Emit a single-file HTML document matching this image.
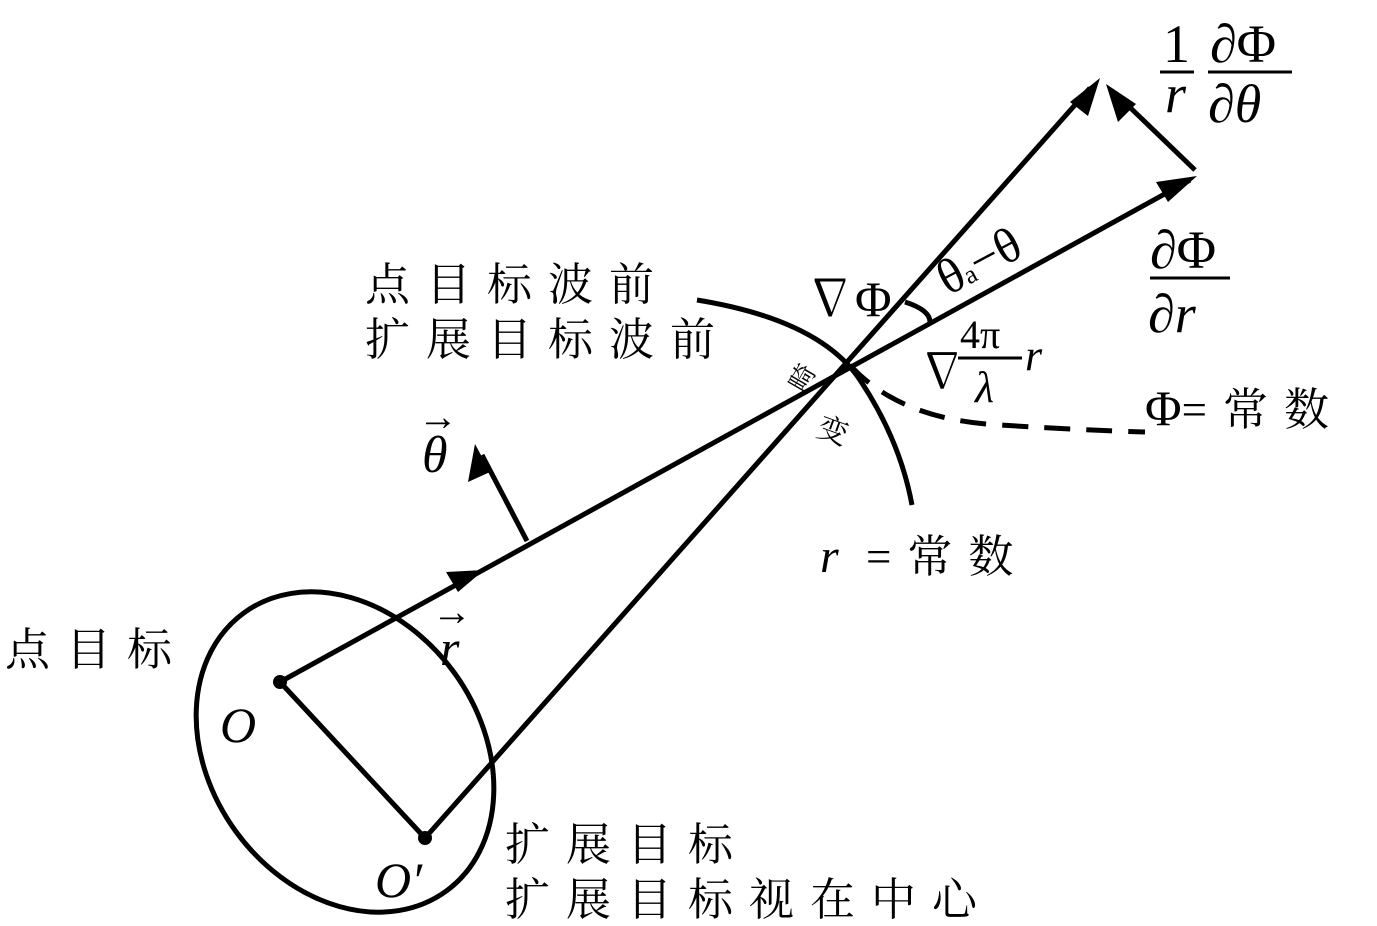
<!DOCTYPE html>
<html><head><meta charset="utf-8"><style>
body{margin:0;background:#fff;}
svg{display:block}
text{font-family:"Liberation Serif","Noto Serif CJK SC",serif;fill:#000}
.cj{font-family:"Liberation Serif","Noto Serif CJK SC",serif;font-size:45px;letter-spacing:16px}
.it{font-style:italic}
</style></head><body>
<svg width="1377" height="926" viewBox="0 0 1377 926" xmlns="http://www.w3.org/2000/svg">
<g stroke="#000" stroke-width="5" fill="none">
<ellipse cx="345" cy="752" rx="135" ry="172" transform="rotate(-36 345 752)"/>
<line x1="280" y1="682" x2="425" y2="838"/>
<line x1="280" y1="682" x2="1190" y2="180"/>
<line x1="425" y1="838" x2="1090" y2="88"/>
<line x1="527" y1="541" x2="482" y2="455"/>
<line x1="1195" y1="170" x2="1115" y2="93"/>
<path d="M697 300 Q820 320 860 380 Q900 440 912 505"/>
<path d="M905 302 Q930 310 930 322"/>
<path d="M850 365 Q900 420 1000 425 Q1080 430 1145 432" stroke-dasharray="26 16"/>
</g>
<g fill="#000">
<path d="M1197 176 L1156 182 L1168 202 Z"/>
<path d="M1100 78 L1070 102 L1088 116 Z"/>
<path d="M1106 84 L1118 122 L1136 104 Z"/>
<path d="M475 444 L468 482 L490 472 Z"/>
<path d="M484 570 L446 572 L458 592 Z"/>
<circle cx="280" cy="682" r="7"/>
<circle cx="425" cy="838" r="7"/>
</g>
<text class="cj" x="365" y="300">点目标波前</text>
<text class="cj" x="365" y="355">扩展目标波前</text>
<text class="cj" x="5" y="665">点目标</text>
<text class="cj" x="505" y="860">扩展目标</text>
<text class="cj" x="505" y="915">扩展目标视在中心</text>
<text x="820" y="572" font-size="48"><tspan class="it">r</tspan><tspan class="cj"> =常数</tspan></text>
<text x="1145" y="425" font-size="50">Φ<tspan class="cj">=常数</tspan></text>
<text x="220" y="742" font-size="50" class="it">O</text>
<text x="375" y="897" font-size="50" class="it">O′</text>
<text x="422" y="472" font-size="52" class="it">θ</text>
<text x="418" y="430" font-size="40">→</text>
<text x="440" y="665" font-size="50" class="it">r</text>
<text x="432" y="625" font-size="40">→</text>
<text x="805" y="316" font-size="50">∇Φ</text>
<text x="948" y="296" font-size="50" transform="rotate(-28 948 296)">θ<tspan font-size="26">a</tspan>−θ</text>
<text x="918" y="388" font-size="48">∇</text>
<text x="960" y="348" font-size="40">4π</text>
<line x1="958" y1="358" x2="1022" y2="358" stroke="#000" stroke-width="3"/>
<text x="975" y="402" font-size="44" class="it">λ</text>
<text x="1025" y="370" font-size="44" class="it">r</text>
<text x="1150" y="268" font-size="54">∂Φ</text>
<line x1="1150" y1="278" x2="1230" y2="278" stroke="#000" stroke-width="3"/>
<text x="1148" y="332" font-size="54">∂<tspan class="it">r</tspan></text>
<text x="1163" y="62" font-size="54">1</text>
<line x1="1160" y1="72" x2="1194" y2="72" stroke="#000" stroke-width="3"/>
<text x="1165" y="112" font-size="54" class="it">r</text>
<text x="1210" y="62" font-size="54">∂Φ</text>
<line x1="1208" y1="72" x2="1292" y2="72" stroke="#000" stroke-width="3"/>
<text x="1208" y="122" font-size="54">∂<tspan class="it">θ</tspan></text>
<text x="790" y="390" font-size="26" transform="rotate(-60 800 380)" font-family="Noto Serif CJK SC">畸</text>
<text x="818" y="440" font-size="30" transform="rotate(20 830 430)" font-family="Noto Serif CJK SC">变</text>
</svg>
</body></html>
